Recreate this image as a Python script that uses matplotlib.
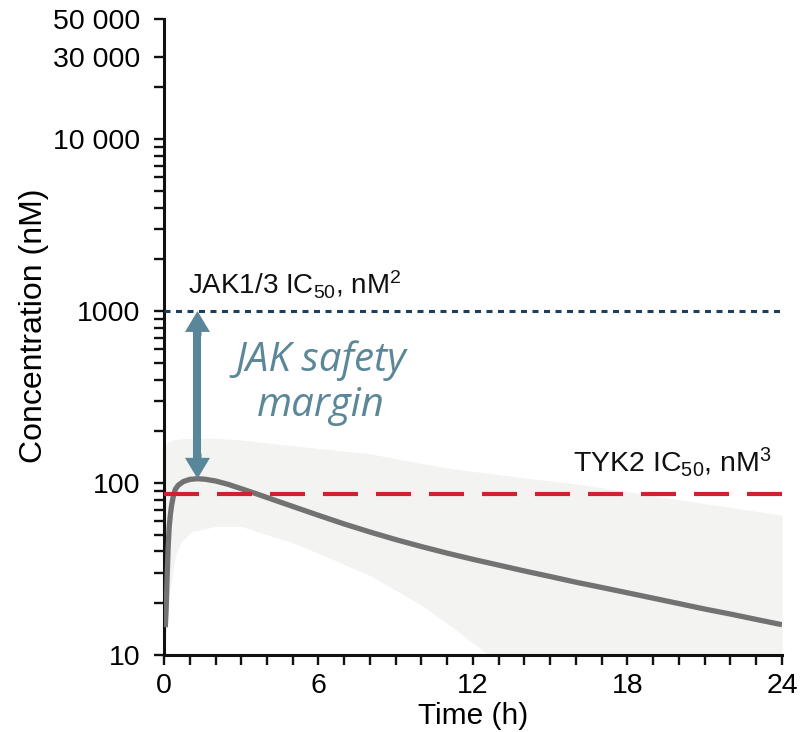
import numpy as np
import matplotlib
matplotlib.use('Agg')
from matplotlib import pyplot as plt

# Mean concentration curve (nM) over time (h)
time_h = [0.05, 0.08, 0.12, 0.16, 0.2, 0.25, 0.3, 0.37, 0.44, 0.55, 0.75, 1.0,
          1.3, 1.6, 2, 2.5, 3, 3.5, 4, 5, 6, 7, 8, 9, 10, 11, 12, 13, 14, 15,
          16, 17, 18, 19, 20, 21, 22, 23, 24]
conc_nm = [14.5, 18, 28, 42, 55, 66, 75, 85, 92, 97, 102, 105,
           106, 105.2, 102.8, 98.2, 92.7, 87.5, 82.4, 73.1, 64.9, 57.8, 51.9, 46.9, 42.7,
           39.1, 36.0, 33.3, 30.8, 28.6, 26.5, 24.7, 23.0, 21.4, 19.9, 18.5, 17.3, 16.1, 15.0]

# Shaded variability band
band_t = [0.05, 0.2, 0.44, 0.7, 1.07, 2, 3, 4, 5, 6, 8, 10, 11.2, 12.6, 14, 16, 20, 24]
band_upper = [165, 175, 179, 181, 182, 182, 178, 171, 165, 159, 148, 130, 121, 114, 107, 99, 80, 65]
band_lower = [12, 22, 38, 46, 52, 56, 56, 50, 45, 39, 29, 19.5, 14.5, 10, 7, 4.5, 2, 1]

# Reference lines
jak13_ic50 = 1000
tyk2_ic50 = 86
peak_conc = 106
arrow_t = 1.3

# Axis ticks
y_major = [10, 100, 1000, 10000, 20000, 30000, 50000]
y_major_labels = ['10', '100', '1000', '10 000', '', '30 000', '50 000']
y_minor = [m * d for d in (10, 100, 1000) for m in range(2, 10)]
x_major = [0, 6, 12, 18, 24]
x_minor = list(range(0, 25))

plt.rcParams['font.family'] = ['Liberation Sans', 'DejaVu Sans']
plt.rcParams['mathtext.default'] = 'regular'

fig = plt.figure(figsize=(8, 7.32), dpi=100)
ax = fig.add_axes([0.205, 0.1052, 0.7725, 0.8689])

ax.fill_between(band_t, band_lower, band_upper, color='#f3f3f2', lw=0, zorder=1)
ax.plot(time_h, conc_nm, color='#727272', lw=3.8, solid_capstyle='butt',
        solid_joinstyle='round', zorder=3)

ax.axhline(tyk2_ic50, color='#d31f30', lw=3.0, zorder=4,
           dashes=(35 * 0.72 / 3.0, 18 * 0.72 / 3.0))
ax.axhline(jak13_ic50, color='#1b3f5c', lw=2.2, zorder=4,
           dashes=(6 * 0.72 / 2.2, 5.5 * 0.72 / 2.2))

# Double-headed arrow: shaft plus two heads
arrow_col = '#5a8699'
ax.plot([arrow_t, arrow_t], [jak13_ic50 / 1.2, peak_conc * 1.2], color=arrow_col,
        lw=5.8, solid_capstyle='butt', zorder=5)
style = 'simple,head_length=15,head_width=18,tail_width=5.8'
for end, start in ((jak13_ic50, jak13_ic50 / 1.4), (peak_conc, peak_conc * 1.4)):
    ax.annotate('', xy=(arrow_t, end), xytext=(arrow_t, start),
                arrowprops=dict(arrowstyle=style, fc=arrow_col, ec='none', lw=0,
                                shrinkA=0, shrinkB=0, mutation_scale=1),
                zorder=5)

ax.text(6.1, 382, 'JAK safety\nmargin', ha='center', va='center',
        fontsize=29, style='italic', color='#5b8799',
        family=['Open Sans', 'DejaVu Sans'], linespacing=1.15)
ax.text(0.95, 1250, 'JAK1/3 IC$_{50}$, nM$^{2}$', ha='left', va='baseline',
        fontsize=20, color='#111111')
ax.text(23.6, 117, 'TYK2 IC$_{50}$, nM$^{3}$', ha='right', va='baseline',
        fontsize=20.5, color='#111111')

ax.set_yscale('log')
ax.set_ylim(10, 50000)
ax.set_xlim(0, 24)
ax.set_yticks(y_major)
ax.set_yticklabels(y_major_labels)
ax.set_yticks(y_minor, minor=True)
ax.yaxis.set_minor_formatter(matplotlib.ticker.NullFormatter())
ax.set_xticks(x_major)
ax.set_xticks(x_minor, minor=True)

for side in ('top', 'right'):
    ax.spines[side].set_visible(False)
for side in ('left', 'bottom'):
    ax.spines[side].set_linewidth(2.2)
    ax.spines[side].set_color('#111111')

ax.tick_params(which='both', length=7, width=1.7, color='#111111',
               labelsize=20.5)
ax.tick_params(axis='y', which='major', pad=10)
ax.tick_params(axis='x', which='major', pad=6)

ax.set_xlabel('Time (h)', fontsize=21.5, labelpad=2)
ax.set_ylabel('Concentration (nM)', fontsize=23)
ax.yaxis.set_label_coords(-0.186, 0.517)

fig.savefig('out.png', dpi=100)
